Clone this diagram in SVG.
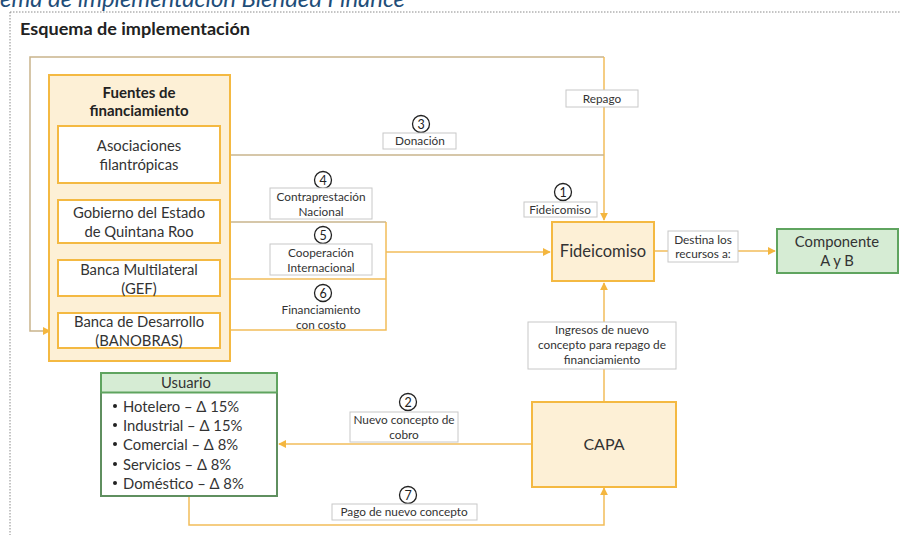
<svg xmlns="http://www.w3.org/2000/svg" width="900" height="535" viewBox="0 0 900 535">
  <defs>
    <marker id="arr" viewBox="0 0 10 10" refX="9" refY="5" markerWidth="8" markerHeight="8" markerUnits="userSpaceOnUse" orient="auto">
      <path d="M0,0 L10,5 L0,10 z" fill="#f4b63f"/>
    </marker>
    <style>
      text { font-family: Lato, "Open Sans", "Liberation Sans", sans-serif; fill: #333; }
      .box { fill: #fff; stroke: #f4b942; stroke-width: 2; }
      .node { fill: #fdf0d6; stroke: #f4b942; stroke-width: 2; }
      .green { fill: #d6ecd4; stroke: #5fa45f; stroke-width: 2; }
      .lbl { fill: #fff; stroke: #c8c8c8; stroke-width: 1; }
      .t14 { font-size: 14.8px; text-anchor: middle; }
      .t11 { font-size: 11.8px; text-anchor: middle; }
      .num { fill: #fff; stroke: #222; stroke-width: 1.3; }
      .numt { font-size: 12.5px; text-anchor: middle; fill: #222; }
      .tan { fill: none; stroke: #c9b48c; stroke-width: 1.5; }
      .org { fill: none; stroke: #f2bd5a; stroke-width: 1.5; }
      .bul { font-size: 14.8px; }
    </style>
  </defs>

  <rect width="900" height="535" fill="#fff"/>

  <!-- heading -->
  <text x="0" y="7" font-size="24" font-style="italic" textLength="405" lengthAdjust="spacingAndGlyphs" style="fill:#1f4e79">ema de implementación Blended Finance</text>
  <path d="M10,12 H900 M10,12 V535" fill="none" stroke="#8a8a8a" stroke-width="1" stroke-dasharray="1.5,1.5"/>
  <text x="20" y="35" font-size="17" font-weight="bold" textLength="230" lengthAdjust="spacingAndGlyphs" style="fill:#222">Esquema de implementación</text>

  <!-- connectors -->
  <g id="connectors">
    <path class="tan" d="M604,57 H30 V331 H50" marker-end="url(#arr)"/>
    <path class="org" d="M604,57 V220" marker-end="url(#arr)"/>
    <path class="tan" d="M220,155 H604"/>
    <path class="tan" d="M220,222 H386"/>
    <path class="org" d="M220,279 H386"/>
    <path class="org" d="M220,330 H386 V222"/>
    <path class="org" d="M386,252 H550" marker-end="url(#arr)"/>
    <path class="org" d="M654,251 H775" marker-end="url(#arr)"/>
    <path class="org" d="M604,401 V283" marker-end="url(#arr)"/>
    <path class="org" d="M531,444 H279" marker-end="url(#arr)"/>
    <path class="org" d="M189,496 V525 H604 V488" marker-end="url(#arr)"/>
  </g>

  <!-- funding sources -->
  <g id="fuentes">
    <rect class="node" x="49" y="75" width="181" height="286"/>
    <text x="139" y="98" font-size="15" font-weight="bold" text-anchor="middle" style="fill:#222">Fuentes de</text>
    <text x="139" y="116" font-size="15" font-weight="bold" text-anchor="middle" style="fill:#222">financiamiento</text>
  </g>
  <g id="asociaciones">
    <rect class="box" x="58" y="126" width="162" height="57"/>
    <text class="t14" x="139" y="151">Asociaciones</text>
    <text class="t14" x="139" y="170">filantrópicas</text>
  </g>
  <g id="gobierno">
    <rect class="box" x="58" y="200" width="162" height="43"/>
    <text class="t14" x="139" y="218">Gobierno del Estado</text>
    <text class="t14" x="139" y="237">de Quintana Roo</text>
  </g>
  <g id="multilateral">
    <rect class="box" x="58" y="260" width="162" height="36"/>
    <text class="t14" x="139" y="275">Banca Multilateral</text>
    <text class="t14" x="139" y="294">(GEF)</text>
  </g>
  <g id="desarrollo">
    <rect class="box" x="58" y="313" width="162" height="35"/>
    <text class="t14" x="139" y="327">Banca de Desarrollo</text>
    <text class="t14" x="139" y="346">(BANOBRAS)</text>
  </g>

  <!-- trust -->
  <g id="fideicomiso">
    <rect class="node" x="552" y="222" width="102" height="59"/>
    <text x="603" y="257" font-size="16.5" text-anchor="middle">Fideicomiso</text>
  </g>
  <g id="componente">
    <rect class="green" x="777" y="229" width="121" height="44"/>
    <text class="t14" x="837" y="247">Componente</text>
    <text class="t14" x="837" y="266">A y B</text>
  </g>
  <g id="capa">
    <rect class="node" x="532" y="402" width="144" height="85"/>
    <text x="604" y="450" font-size="16" text-anchor="middle">CAPA</text>
  </g>

  <!-- users -->
  <g id="usuario">
    <rect x="101" y="373" width="176" height="123" fill="#fff" stroke="#5f8f5f" stroke-width="2"/>
    <rect x="101" y="373" width="176" height="19.5" fill="#d6ecd4" stroke="#5fa45f" stroke-width="2"/>
    <text class="t14" x="186" y="388">Usuario</text>
    <g class="bul">
      <circle cx="115" cy="406" r="2" fill="#222"/><text x="123" y="412">Hotelero – Δ 15%</text>
      <circle cx="115" cy="425" r="2" fill="#222"/><text x="123" y="431">Industrial – Δ 15%</text>
      <circle cx="115" cy="444" r="2" fill="#222"/><text x="123" y="450">Comercial – Δ 8%</text>
      <circle cx="115" cy="464" r="2" fill="#222"/><text x="123" y="470">Servicios – Δ 8%</text>
      <circle cx="115" cy="483" r="2" fill="#222"/><text x="123" y="489">Doméstico – Δ 8%</text>
    </g>
  </g>

  <!-- connector labels -->
  <g id="labels">
    <rect class="lbl" x="566" y="90" width="72" height="17"/>
    <text class="t11" x="602" y="103">Repago</text>

    <circle class="num" cx="421" cy="124" r="8.5"/>
    <text class="numt" x="421" y="128.5">3</text>
    <rect class="lbl" x="383" y="133" width="73" height="16"/>
    <text class="t11" x="420" y="145">Donación</text>

    <circle class="num" cx="323" cy="180" r="8.5"/>
    <text class="numt" x="323" y="184.5">4</text>
    <rect class="lbl" x="270" y="188" width="102" height="31"/>
    <text class="t11" x="321" y="201">Contraprestación</text>
    <text class="t11" x="321" y="216">Nacional</text>

    <circle class="num" cx="323" cy="235" r="8.5"/>
    <text class="numt" x="323" y="239.5">5</text>
    <rect class="lbl" x="270" y="244" width="102" height="31"/>
    <text class="t11" x="321" y="257">Cooperación</text>
    <text class="t11" x="321" y="272">Internacional</text>

    <circle class="num" cx="323" cy="293" r="8.5"/>
    <text class="numt" x="323" y="297.5">6</text>
    <text class="t11" x="321" y="314">Financiamiento</text>
    <text class="t11" x="321" y="329">con costo</text>

    <circle class="num" cx="563" cy="192" r="8.5"/>
    <text class="numt" x="563" y="196.5">1</text>
    <rect class="lbl" x="524" y="202" width="73" height="15"/>
    <text class="t11" x="560" y="214">Fideicomiso</text>

    <rect class="lbl" x="668" y="231" width="70" height="31"/>
    <text class="t11" x="703" y="244">Destina los</text>
    <text class="t11" x="703" y="258">recursos a:</text>

    <rect class="lbl" x="528" y="322" width="148" height="47"/>
    <text class="t11" x="602" y="334">Ingresos de nuevo</text>
    <text class="t11" x="602" y="349">concepto para repago de</text>
    <text class="t11" x="602" y="364">financiamiento</text>

    <circle class="num" cx="408" cy="402" r="8.5"/>
    <text class="numt" x="408" y="406.5">2</text>
    <rect class="lbl" x="350" y="412" width="108" height="30"/>
    <text class="t11" x="404" y="424">Nuevo concepto de</text>
    <text class="t11" x="404" y="439">cobro</text>

    <circle class="num" cx="408" cy="495" r="8.5"/>
    <text class="numt" x="408" y="499.5">7</text>
    <rect class="lbl" x="332" y="504" width="145" height="16"/>
    <text class="t11" x="404" y="516">Pago de nuevo concepto</text>
  </g>
</svg>
